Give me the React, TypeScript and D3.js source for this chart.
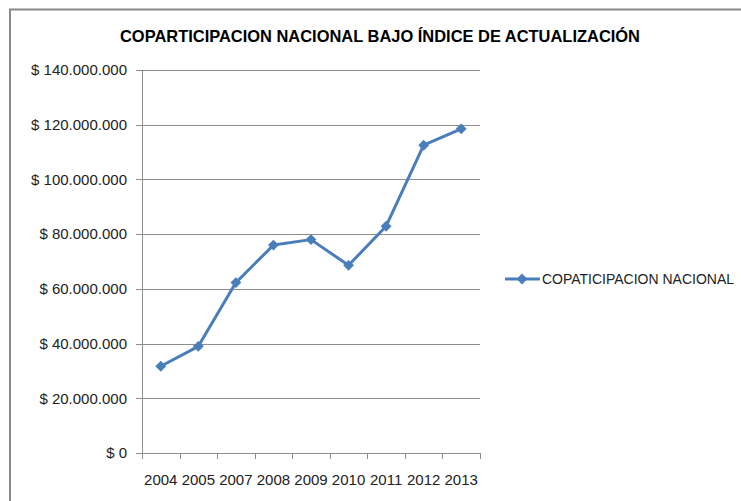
import React from 'react';
import * as d3 from 'd3';

const years = ['2004', '2005', '2007', '2008', '2009', '2010', '2011', '2012', '2013'];
const coparticipacion = [31700000, 39000000, 62300000, 76000000, 78000000, 68600000, 82900000, 112500000, 118500000];
const yTicks = [0, 20000000, 40000000, 60000000, 80000000, 100000000, 120000000, 140000000];

const title = 'COPARTICIPACION NACIONAL BAJO ÍNDICE DE ACTUALIZACIÓN';
const seriesName = 'COPATICIPACION NACIONAL';

const W = 741;
const H = 501;
const plot = { left: 142, right: 480, top: 70, bottom: 453 };
const blue = '#4A7EBB';
const grid = '#8c8c8c';
const font = '"Liberation Sans", Arial, sans-serif';

const fmt = (v: number) => '$ ' + d3.format(',')(v).replace(/,/g, '.');

const diamond = d3.symbol().type(d3.symbolDiamond2).size(75);

const App = () => {
  const x = d3.scaleBand().domain(years).range([plot.left, plot.right]);
  const y = d3.scaleLinear().domain([0, 140000000]).range([plot.bottom, plot.top]);

  const data = years.map((yr, i) => ({ yr, v: coparticipacion[i] }));
  const line = d3.line<{ yr: string; v: number }>()
    .x(d => (x(d.yr) as number) + x.bandwidth() / 2)
    .y(d => y(d.v));

  const bounds = [...years.map(yr => x(yr) as number), plot.right];

  return (
    <svg width={W} height={H} style={{ position: 'absolute', left: 0, top: 0, background: '#fff' }}>
      <rect x={10} y={9.5} width={W} height={H} fill="none" stroke="#888" strokeWidth={2} />
      <text x={380} y={42} textAnchor="middle" fontFamily={font} fontWeight="bold" fontSize={17}
        textLength={520} lengthAdjust="spacingAndGlyphs" fill="#000">{title}</text>

      {yTicks.map(t => (
        <g key={t}>
          <line x1={plot.left - 6} x2={plot.right} y1={Math.round(y(t)) + 0.5} y2={Math.round(y(t)) + 0.5}
            stroke={grid} strokeWidth={1} />
          <text x={127} y={y(t)} dy="0.35em" textAnchor="end" fontFamily={font} fontSize={15} fill="#222">
            {fmt(t)}
          </text>
        </g>
      ))}
      <line x1={plot.left + 0.5} x2={plot.left + 0.5} y1={plot.top} y2={plot.bottom} stroke={grid} />
      {bounds.map((b, i) => (
        <line key={i} x1={Math.round(b) + 0.5} x2={Math.round(b) + 0.5} y1={plot.bottom} y2={plot.bottom + 6} stroke={grid} />
      ))}
      {years.map(yr => (
        <text key={yr} x={(x(yr) as number) + x.bandwidth() / 2} y={485} textAnchor="middle"
          fontFamily={font} fontSize={15} fill="#222">{yr}</text>
      ))}

      <path d={line(data) as string} fill="none" stroke={blue} strokeWidth={3} strokeLinejoin="round" />
      {data.map(d => (
        <path key={d.yr} d={diamond() as string} fill={blue}
          transform={`translate(${(x(d.yr) as number) + x.bandwidth() / 2},${y(d.v)})`} />
      ))}

      <line x1={505} x2={540} y1={279} y2={279} stroke={blue} strokeWidth={3} />
      <path d={diamond() as string} fill={blue} transform="translate(522,279)" />
      <text x={542} y={279} dy="0.35em" fontFamily={font} fontSize={14} fill="#222"
        textLength={192} lengthAdjust="spacingAndGlyphs">{seriesName}</text>
    </svg>
  );
};

export default App;
